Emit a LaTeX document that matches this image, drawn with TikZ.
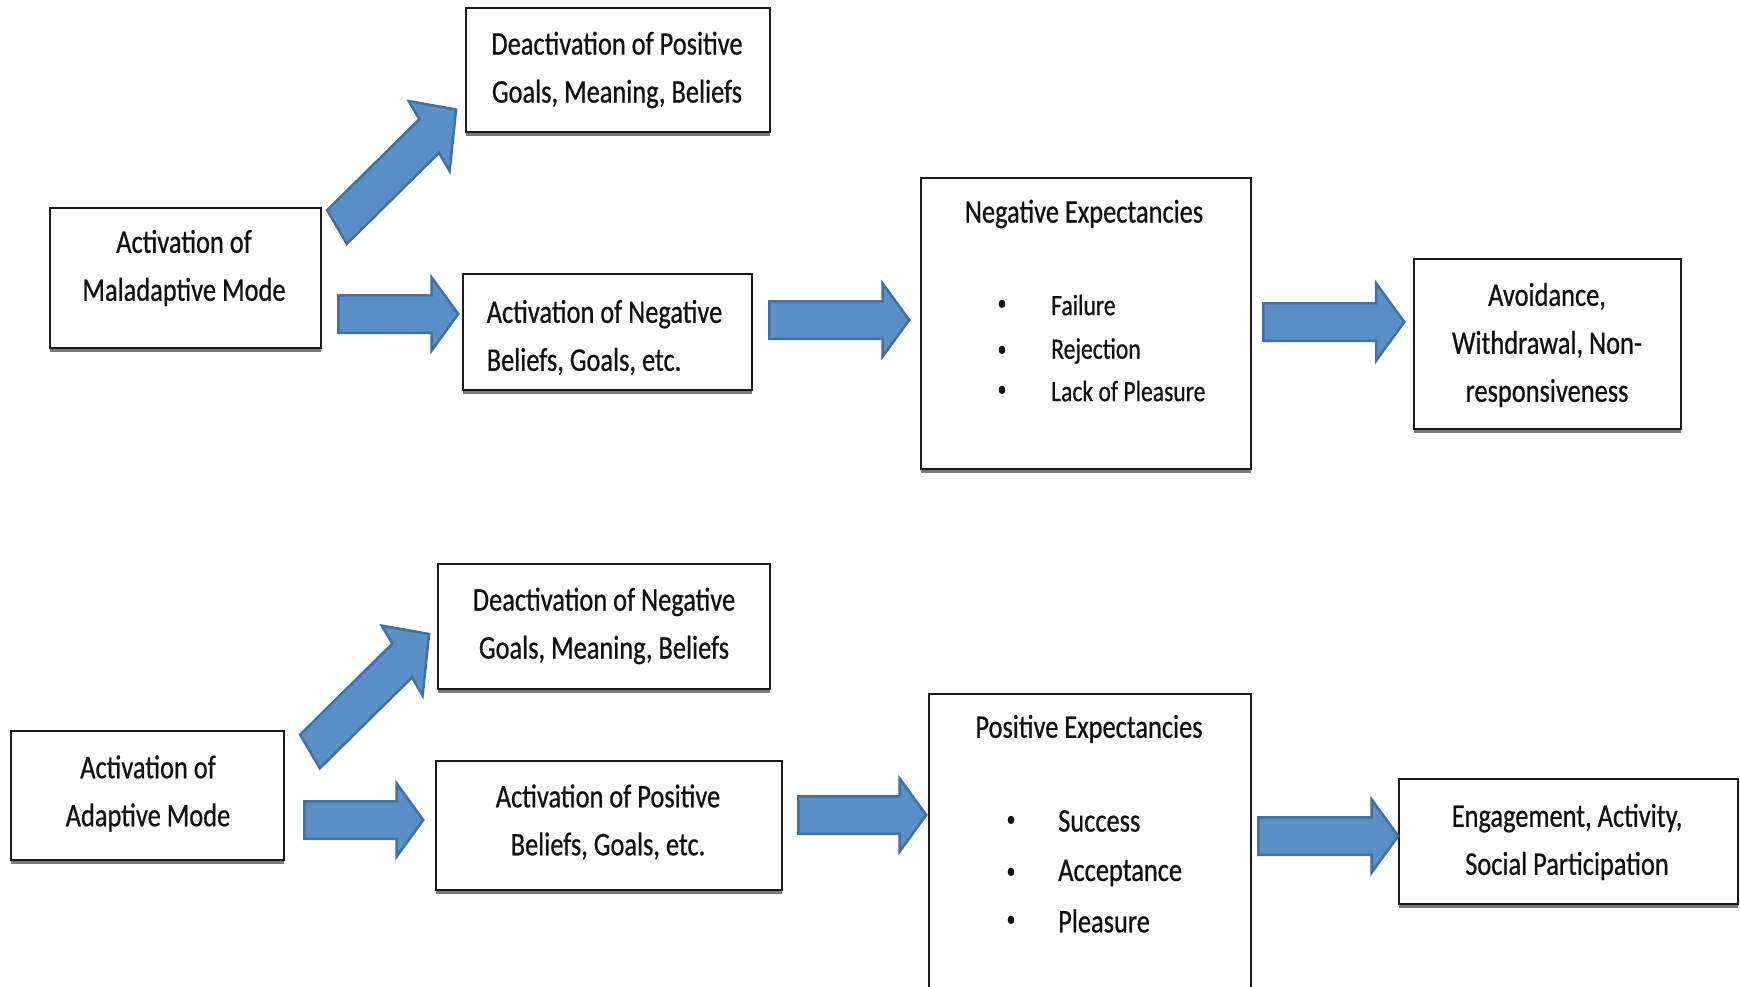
\documentclass[tikz,border=0pt]{standalone}
\usepackage{fontspec}
\setmainfont{Carlito}[FakeStretch=0.8, FakeBold=0.6]
\usetikzlibrary{shapes.arrows,calc}
\definecolor{arrowfill}{HTML}{5B8FC8}
\definecolor{arrowedge}{HTML}{44709F}
\definecolor{inkcol}{HTML}{101010}
\definecolor{shadowcol}{HTML}{7A7A7A}

\begin{document}
\begin{tikzpicture}[x=1pt,y=-1pt,
  box/.style={draw=black!90, line width=2.6pt, fill=white, inner sep=0pt, outer sep=0pt},
  label/.style={text=inkcol, font=\fontsize{33}{48}\selectfont, align=center, inner sep=0pt},
  small/.style={text=inkcol, font=\fontsize{29.5}{40}\selectfont, inner sep=0pt, anchor=west},
  item/.style={text=inkcol, font=\fontsize{33}{40}\selectfont, inner sep=0pt, anchor=west},
  dot/.style={text=inkcol, font=\fontsize{22}{22}\selectfont, inner sep=0pt},
  blockarrow/.style={single arrow, fill=arrowfill, draw=arrowedge, line width=2.5pt,
    inner xsep=0pt, inner ysep=17.5pt, single arrow tip angle=108,
    single arrow head indent=0pt, single arrow head extend=18pt,
    minimum width=10pt, anchor=tail},
  slanted/.style={blockarrow, inner ysep=15pt, single arrow tip angle=90,
    single arrow head extend=17.5pt, minimum height=149.5, rotate=37.2}
]
\useasboundingbox (0,0) rectangle (1740,987);

% ---------- maladaptive chain ----------
\node[box, minimum width=271, minimum height=140] (mal) at (185.5,278) {};
\node[box, minimum width=304, minimum height=124] (deapos) at (618,70) {};
\node[box, minimum width=289, minimum height=116] (actneg) at (607.5,332) {};
\node[box, minimum width=330, minimum height=291] (negexp) at (1086,323.5) {};
\node[box, minimum width=267, minimum height=170] (avoid) at (1547.5,344) {};

% ---------- adaptive chain ----------
\node[box, minimum width=273, minimum height=129] (ada) at (147.5,795.5) {};
\node[box, minimum width=332, minimum height=125] (deaneg) at (604,626.5) {};
\node[box, minimum width=346, minimum height=129] (actpos) at (609,825.5) {};
\node[box, minimum width=322, minimum height=301] (posexp) at (1090,844.5) {};
\node[box, minimum width=339, minimum height=125] (engage) at (1568.5,841.5) {};

% heavier grey lower edges of the boxes
\foreach \b in {mal,deapos,actneg,negexp,avoid,ada,deaneg,actpos,posexp,engage}
  \draw[shadowcol, line width=3pt] ($(\b.south west)+(0,2.5)$) -- ($(\b.south east)+(0,2.5)$);

% ---------- texts ----------
\node[label] (tmal) at (184,268) {Activation of\\Maladaptive Mode};
\node[label] (tdeapos) at (617,70) {Deactivation of Positive\\Goals, Meaning, Beliefs};
\node[label, align=left] (tactneg) at (604.5,337.5) {Activation of Negative\\Beliefs, Goals, etc.};
\node[label] (tnegexp) at (1084,214) {Negative Expectancies};
\node[dot] (d1) at (1002,305) {•};
\node[dot] (d2) at (1002,351) {•};
\node[dot] (d3) at (1002,391) {•};
\node[small] (i1) at (1051,305) {Failure};
\node[small] (i2) at (1051,351) {Rejection};
\node[small] (i3) at (1051,391) {Lack of Pleasure};
\node[label] (tavoid) at (1547,345) {Avoidance,\\Withdrawal, Non-\\responsiveness};

\node[label] (tada) at (148,793.5) {Activation of\\Adaptive Mode};
\node[label] (tdeaneg) at (604,626) {Deactivation of Negative\\Goals, Meaning, Beliefs};
\node[label] (tactpos) at (608,822) {Activation of Positive\\Beliefs, Goals, etc.};
\node[label] (tposexp) at (1089,729) {Positive Expectancies};
\node[dot] (e1) at (1011,821) {•};
\node[dot] (e2) at (1011,873) {•};
\node[dot] (e3) at (1011,921) {•};
\node[item] (j1) at (1058,821) {Success};
\node[item] (j2) at (1058,873) {Acceptance};
\node[item] (j3) at (1058,921) {Pleasure};
\node[label] (tengage) at (1567,842) {Engagement, Activity,\\Social Participation};

% ---------- block arrows (placed by their tails) ----------
\node[blockarrow, minimum height=120] (a1) at (337,314) {};
\node[blockarrow, minimum height=140] (a3) at (768,320) {};
\node[blockarrow, minimum height=141, single arrow head extend=20pt] (a4) at (1262,322) {};
\node[blockarrow, minimum height=119] (a5) at (303,820) {};
\node[blockarrow, minimum height=128] (a7) at (797,815) {};
\node[blockarrow, minimum height=140] (a8) at (1257,836) {};

% slanted arrows: drawn upright-stretched like the rest of the figure
\begin{scope}[shift={(336,228)}, yscale=1.3, transform shape]
  \node[slanted] (a2) at (0,0) {};
\end{scope}
\begin{scope}[shift={(309,752.5)}, yscale=1.3, transform shape]
  \node[slanted] (a6) at (0,0) {};
\end{scope}
\end{tikzpicture}
\end{document}
